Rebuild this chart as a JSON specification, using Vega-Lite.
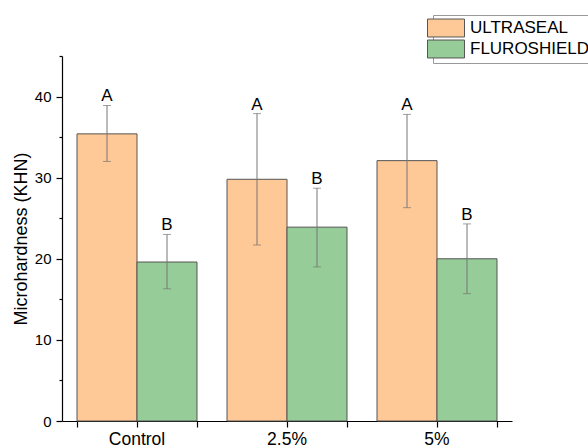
{
  "$schema": "https://vega.github.io/schema/vega-lite/v6.json",
  "width": 450,
  "height": 365,
  "autosize": {"type": "none"},
  "padding": {"left": 62, "top": 56, "right": 76, "bottom": 27},
  "background": "white",
  "config": {
    "font": "Liberation Sans",
    "view": {"stroke": null},
    "axis": {
      "domainColor": "#000",
      "tickColor": "#000",
      "labelColor": "#000",
      "titleColor": "#000",
      "grid": false,
      "labelFont": "Liberation Sans",
      "titleFont": "Liberation Sans",
      "titleFontWeight": "normal",
      "domainWidth": 1.2,
      "tickWidth": 1.2
    }
  },
  "data": {
    "values": [
      {"group": "Control", "material": "ULTRASEAL", "mean": 35.4, "lo": 32.0, "hi": 38.9, "letter": "A"},
      {"group": "Control", "material": "FLUROSHIELD", "mean": 19.6, "lo": 16.3, "hi": 23.0, "letter": "B"},
      {"group": "2.5%", "material": "ULTRASEAL", "mean": 29.8, "lo": 21.7, "hi": 37.9, "letter": "A"},
      {"group": "2.5%", "material": "FLUROSHIELD", "mean": 23.9, "lo": 19.0, "hi": 28.7, "letter": "B"},
      {"group": "5%", "material": "ULTRASEAL", "mean": 32.1, "lo": 26.3, "hi": 37.8, "letter": "A"},
      {"group": "5%", "material": "FLUROSHIELD", "mean": 20.0, "lo": 15.7, "hi": 24.3, "letter": "B"}
    ]
  },
  "layer": [
    {
      "mark": {"type": "bar", "stroke": "#555", "strokeWidth": 1},
      "encoding": {
        "x": {
          "field": "group", "type": "nominal", "sort": ["Control", "2.5%", "5%"],
          "scale": {"paddingInner": 0.2, "paddingOuter": 0.1},
          "axis": {"title": null, "labelAngle": 0, "labelFontSize": 17.5, "tickSize": 6, "labelPadding": 3, "orient": "bottom"}
        },
        "xOffset": {
          "field": "material", "type": "nominal", "sort": ["ULTRASEAL", "FLUROSHIELD"],
          "scale": {"paddingInner": 0, "paddingOuter": 0}
        },
        "y": {
          "field": "mean", "type": "quantitative",
          "scale": {"domain": [0, 45], "nice": false, "zero": true},
          "axis": {"values": [0, 10, 20, 30, 40], "title": "Microhardness (KHN)", "titleFontSize": 18, "labelFontSize": 15, "tickSize": 6, "labelPadding": 5, "titlePadding": 4, "orient": "left"}
        },
        "color": {
          "field": "material", "type": "nominal",
          "scale": {"domain": ["ULTRASEAL", "FLUROSHIELD"], "range": ["#FFC997", "#95CC97"]},
          "legend": {
            "orient": "none", "legendX": 371, "legendY": -41, "title": null,
            "symbolType": "M-2,-0.97H2V0.97H-2Z", "symbolSize": 342,
            "symbolStrokeColor": "#555", "symbolStrokeWidth": 1, "symbolOpacity": 1,
            "labelFontSize": 17, "labelOffset": 14, "labelFont": "Liberation Sans", "labelColor": "#000",
            "strokeColor": "#999", "fillColor": "white", "padding": 3, "rowPadding": -3.5
          }
        }
      }
    },
    {
      "mark": {"type": "rule", "color": "#777", "strokeWidth": 1},
      "encoding": {
        "x": {
          "field": "group", "type": "nominal", "sort": ["Control", "2.5%", "5%"],
          "axis": {"title": null, "labels": false, "domain": false, "tickBand": "extent", "tickSize": 6, "orient": "bottom"}
        },
        "xOffset": {"field": "material", "type": "nominal", "sort": ["ULTRASEAL", "FLUROSHIELD"]},
        "y": {
          "field": "lo", "type": "quantitative",
          "axis": {"values": [5, 15, 25, 35, 45], "labels": false, "domain": false, "title": null, "tickSize": 3, "orient": "left"}
        },
        "y2": {"field": "hi"}
      }
    },
    {
      "mark": {"type": "tick", "color": "#777", "size": 8, "thickness": 1},
      "encoding": {
        "x": {"field": "group", "type": "nominal", "sort": ["Control", "2.5%", "5%"], "axis": null},
        "xOffset": {"field": "material", "type": "nominal", "sort": ["ULTRASEAL", "FLUROSHIELD"]},
        "y": {"field": "hi", "type": "quantitative", "axis": null}
      }
    },
    {
      "mark": {"type": "tick", "color": "#777", "size": 8, "thickness": 1},
      "encoding": {
        "x": {"field": "group", "type": "nominal", "sort": ["Control", "2.5%", "5%"], "axis": null},
        "xOffset": {"field": "material", "type": "nominal", "sort": ["ULTRASEAL", "FLUROSHIELD"]},
        "y": {"field": "lo", "type": "quantitative", "axis": null}
      }
    },
    {
      "mark": {"type": "text", "fontSize": 17, "font": "Liberation Sans", "color": "#000", "baseline": "alphabetic", "dy": -4},
      "encoding": {
        "x": {"field": "group", "type": "nominal", "sort": ["Control", "2.5%", "5%"], "axis": null},
        "xOffset": {"field": "material", "type": "nominal", "sort": ["ULTRASEAL", "FLUROSHIELD"]},
        "y": {"field": "hi", "type": "quantitative", "axis": null},
        "text": {"field": "letter"}
      }
    }
  ],
  "resolve": {"axis": {"x": "independent", "y": "independent"}}
}
